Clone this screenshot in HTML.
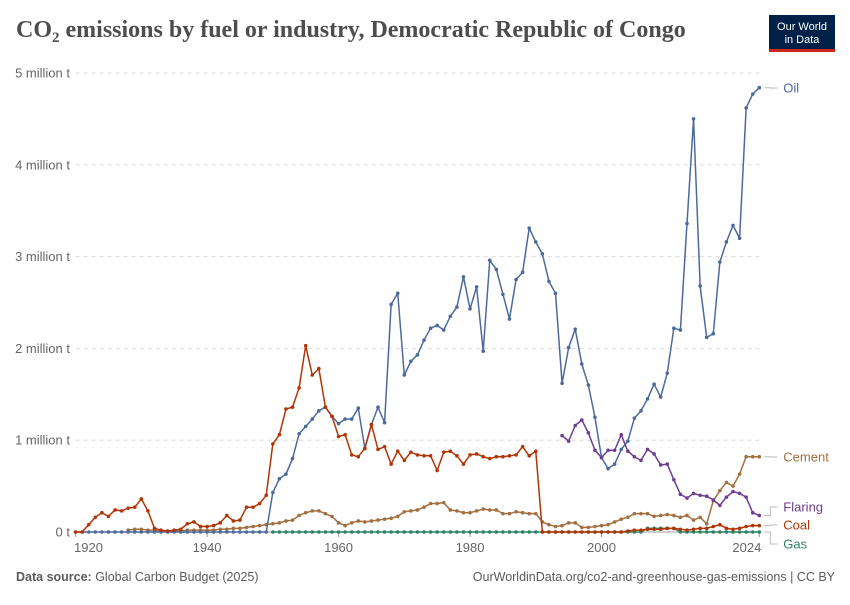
<!DOCTYPE html>
<html><head><meta charset="utf-8">
<style>
body{margin:0;background:#fff;}
svg text{font-family:"Liberation Sans",sans-serif;}
</style></head>
<body>
<svg id="chart" width="850" height="600" viewBox="0 0 850 600" xmlns="http://www.w3.org/2000/svg">
<text x="16" y="37" font-size="24" font-weight="bold" fill="#4d4d4d" style="font-family:'Liberation Serif',serif">CO<tspan font-size="15" dy="5">2</tspan><tspan dy="-5"> emissions by fuel or industry, Democratic Republic of Congo</tspan></text>
<g>
<rect x="769" y="15" width="66" height="37" fill="#002147"/>
<rect x="769" y="49" width="66" height="3" fill="#ce261e"/>
<text x="802" y="30" text-anchor="middle" font-size="11" fill="#fff">Our World</text>
<text x="802" y="43" text-anchor="middle" font-size="11" fill="#fff">in Data</text>
</g>
<g id="grid"></g>
<g id="series"></g>
<g id="labels"></g>
<text x="16" y="581" font-size="12.5" fill="#5b5b5b"><tspan font-weight="bold">Data source:</tspan> Global Carbon Budget (2025)</text>
<text x="835" y="581" text-anchor="end" font-size="12.5" fill="#5b5b5b">OurWorldinData.org/co2-and-greenhouse-gas-emissions | CC BY</text>
</svg>
<script>
const yTicks = [0, 1, 2, 3, 4, 5];
const yTickLabels = ["0 t", "1 million t", "2 million t", "3 million t", "4 million t", "5 million t"];
const xTicks = [1920, 1940, 1960, 1980, 2000, 2024];
const oilStart = 1920;
const oil = [0,0,0,0,0,0,0,0,0,0, 0,0,0,0,0,0,0,0,0,0, 0,0,0,0,0,0,0,0,0,0,
 .43,.58,.63,.80,1.07,1.15,1.23,1.32,1.36,1.26,
 1.18,1.23,1.23,1.35,.91,1.17,1.36,1.19,2.48,2.60,
 1.71,1.86,1.93,2.09,2.22,2.25,2.20,2.35,2.45,2.78,
 2.43,2.67,1.97,2.96,2.86,2.59,2.32,2.75,2.83,3.31,
 3.16,3.03,2.73,2.60,1.62,2.01,2.21,1.83,1.60,1.25,
 .81,.69,.74,.90,.99,1.24,1.32,1.45,1.61,1.47,
 1.73,2.22,2.20,3.36,4.50,2.68,2.12,2.16,2.94,3.16,
 3.34,3.20,4.62,4.77,4.84];
const coalStart = 1920;
const coal = [0,0,.08,.16,.21,.17,.24,.23,.26,.27,
 .36,.23,.04,.02,.01,.02,.03,.09,.11,.06,
 .06,.07,.10,.18,.12,.13,.27,.27,.31,.40,
 .96,1.06,1.34,1.36,1.57,2.03,1.71,1.78,1.36,1.26,
 1.04,1.06,.84,.82,.91,1.17,.90,.93,.74,.88,
 .78,.87,.84,.83,.83,.67,.87,.88,.83,.74,
 .84,.85,.82,.80,.82,.82,.83,.84,.93,.83,
 .88,0,0,0,0,0,0,0,0,0,
 0,0,0,0,.01,.02,.02,.03,.03,.03,
 .04,.04,.03,.02,.03,.04,.04,.06,.08,.04,
 .03,.04,.06,.07,.07];
const cementStart = 1928;
const cement = [.02,.03,
 .03,.02,.02,.01,.01,.01,.01,.02,.02,.02,
 .02,.02,.03,.03,.04,.04,.05,.06,.07,.08,
 .09,.10,.12,.13,.18,.21,.23,.23,.20,.17,
 .10,.07,.10,.12,.11,.12,.13,.14,.15,.17,
 .22,.23,.24,.27,.31,.31,.32,.24,.23,.21,
 .21,.23,.25,.24,.24,.20,.20,.22,.21,.20,
 .20,.11,.08,.06,.07,.10,.10,.05,.05,.06,
 .07,.08,.11,.14,.16,.20,.20,.20,.17,.18,
 .19,.18,.16,.18,.13,.16,.09,.34,.45,.54,
 .50,.63,.82,.82,.82];
const flaringStart = 1994;
const flaring = [1.05,.99,1.16,1.22,1.08,.89,
 .81,.89,.89,1.06,.88,.82,.78,.90,.85,.73,
 .74,.57,.41,.37,.42,.40,.39,.35,.29,.38,
 .44,.42,.38,.21,.18];
const gasStart = 1950;
const gas = [0,0,0,0,0,0,0,0,0,0, 0,0,0,0,0,0,0,0,0,0, 0,0,0,0,0,0,0,0,0,0,
 0,0,0,0,0,0,0,0,0,0, 0,0,0,0,0,0,0,0,0,0, 0,0,0,0,0,0,0,.04,.04,.04,
 .04,.04,0,0,0,0,0,0,0,0, 0,0,0,0,0];

const NS = "http://www.w3.org/2000/svg";
const X0 = 75.6, X1 = 759.3, Y0 = 532, Y5 = 73;
function xs(yr){ return X0 + (yr - 1920) * (X1 - X0) / 104; }
function ys(v){ return Y0 - v * (Y0 - Y5) / 5; }
function mk(tag, attrs, parent){ const e = document.createElementNS(NS, tag); for (const k in attrs) e.setAttribute(k, attrs[k]); parent.appendChild(e); return e; }

const grid = document.getElementById('grid');
yTicks.forEach((t, i) => {
  const y = ys(t);
  if (t > 0) {
    const l = mk('line', {x1: X0, x2: X1, y1: y, y2: y, stroke: '#dadada', 'stroke-dasharray': '4,4'}, grid);
    
    
  }
  const tx = mk('text', {x: 70, y: y + 4.5, 'text-anchor': 'end', 'font-size': 13, fill: '#666'}, grid);
  tx.textContent = yTickLabels[i];
  
  
});
const ax = mk('line', {x1: X0, x2: X1, y1: Y0, y2: Y0, stroke: '#999'}, grid);


xTicks.forEach((t, i) => {
  const x = xs(t);
  const tk = mk('line', {x1: x, x2: x, y1: Y0, y2: Y0 + 5, stroke: '#999'}, grid);
  
  
  let lx = x, anchor = 'middle';
  if (i === 0) { lx = 74; anchor = 'start'; }
  if (i === xTicks.length - 1) { lx = x + 2; anchor = 'end'; }
  const tx = mk('text', {x: lx, y: 552, 'text-anchor': anchor, 'font-size': 13, fill: '#666'}, grid);
  tx.textContent = t;
  
  
});

const seriesG = document.getElementById('series');
function draw(name, start, vals, color){
  const g = mk('g', {}, seriesG);
  
  
  const pts = vals.map((v, i) => xs(start + i).toFixed(2) + ',' + ys(v).toFixed(2)).join(' ');
  const pl = mk('polyline', {points: pts, fill: 'none', stroke: color, 'stroke-width': 1.5, 'stroke-linejoin': 'round'}, g);
  
  
  vals.forEach((v, i) => {
    const c = mk('circle', {cx: xs(start + i), cy: ys(v), r: 1.8, fill: color}, g);
    
    
  });
}
draw('cement', cementStart, cement, '#a2703e');
draw('oil', oilStart, oil, '#4c6a9c');
draw('gas', gasStart, gas, '#2c8465');
draw('coal', coalStart, coal, '#b13507');
draw('flaring', flaringStart, flaring, '#6d3e91');

const lab = document.getElementById('labels');
const legend = [
  ['Oil', oil[oil.length-1], 88, '#4c6a9c'],
  ['Cement', cement[cement.length-1], 457, '#a2703e'],
  ['Flaring', flaring[flaring.length-1], 507, '#6d3e91'],
  ['Coal', coal[coal.length-1], 525, '#b13507'],
  ['Gas', gas[gas.length-1], 544, '#2c8465']
];
legend.forEach(([n, v, ly, col]) => {
  const sy = ys(v);
  const p = mk('path', {d: `M${X1+5},${sy} H${X1+11} V${ly} H${X1+18}`, fill: 'none', stroke: '#bbb', 'stroke-width': 1}, lab);
  
  
  const t = mk('text', {x: X1 + 24, y: ly + 4.5, 'font-size': 13, fill: col}, lab);
  t.textContent = n;
  
  
});
</script>
</body></html>
